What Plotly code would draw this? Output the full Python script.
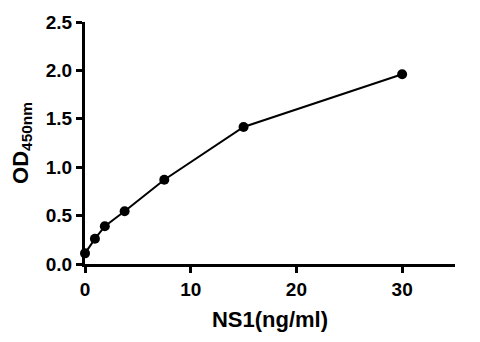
import plotly.graph_objects as go

# NS1 standard curve: concentration vs. absorbance
concentration = [0, 0.9375, 1.875, 3.75, 7.5, 15, 30]
od450 = [0.11, 0.26, 0.39, 0.545, 0.87, 1.415, 1.96]

x_ticks = [0, 10, 20, 30]
y_ticks = [0.0, 0.5, 1.0, 1.5, 2.0, 2.5]
y_tick_labels = ["0.0", "0.5", "1.0", "1.5", "2.0", "2.5"]

font_family = "Liberation Sans, Arial, sans-serif"

fig = go.Figure(
    go.Scatter(
        x=concentration,
        y=od450,
        mode="lines+markers",
        line=dict(color="black", width=2),
        marker=dict(color="black", size=10),
        cliponaxis=False,
    )
)

axis_common = dict(
    showline=True,
    linecolor="black",
    linewidth=3,
    ticks="outside",
    ticklen=6,
    tickwidth=3,
    tickcolor="black",
    showgrid=False,
    zeroline=False,
    tickfont=dict(family=font_family, size=19, color="black", weight="bold"),
)

fig.update_xaxes(
    range=[0, 35],
    tickvals=x_ticks,
    title=dict(
        text="<b>NS1(ng/ml)</b>",
        font=dict(family=font_family, size=22, color="black"),
        standoff=13,
    ),
    **axis_common,
)
fig.update_yaxes(
    range=[0, 2.5],
    tickvals=y_ticks,
    ticktext=y_tick_labels,
    title=dict(
        text="<b>OD<sub>450nm</sub></b>",
        font=dict(family=font_family, size=22, color="black"),
        standoff=12,
    ),
    **axis_common,
)

fig.update_layout(
    width=480,
    height=342,
    margin=dict(l=85, r=25, t=19, b=78),
    plot_bgcolor="white",
    paper_bgcolor="white",
    showlegend=False,
)

fig.write_html("out.html")
